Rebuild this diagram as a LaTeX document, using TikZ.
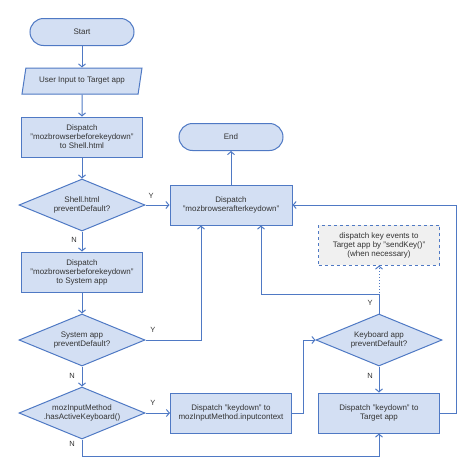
\documentclass[tikz,border=0pt]{standalone}
\usepackage{fontspec}
\setmainfont{Liberation Sans}
\usepackage{xcolor}
\usetikzlibrary{arrows.meta,shapes.geometric,positioning}
\definecolor{edge}{HTML}{4F79C4}
\definecolor{boxfill}{HTML}{D3DFF3}
\definecolor{notefill}{HTML}{F0F0F0}
\definecolor{ink}{HTML}{333333}
\tikzset{
  proc/.style={draw=edge, fill=boxfill, line width=1pt, minimum width=121pt, minimum height=40pt,
    align=center, text=ink, font=\fontsize{8}{9}\selectfont, inner sep=1pt},
  term/.style={proc, rounded corners=13.5pt, minimum width=104pt, minimum height=27pt},
  io/.style={proc, trapezium, trapezium left angle=67, trapezium right angle=113,
    trapezium stretches body, minimum width=120pt, minimum height=26pt},
  dec/.style={proc, diamond, aspect=2.4, inner sep=0pt, minimum width=126pt, minimum height=52pt},
  note/.style={proc, dashed, fill=notefill},
  flow/.style={draw=edge, line width=1pt, -{Straight Barb[length=3pt,width=7pt]}},
  hint/.style={flow, dotted},
  yn/.style={text=ink, font=\fontsize{7.5}{9}\selectfont},
}
\begin{document}
\begin{tikzpicture}[x=1pt, y=-1pt]
\useasboundingbox (0,0) rectangle (474,474);

% left column
\node[term] (start) at (82,32) {Start};
\node[io] (input) at (82,81) {User Input to Target app};
\node[proc] (shellsend) at (82,137) {Dispatch\\"mozbrowserbeforekeydown"\\to Shell.html};
\node[dec] (shelldec) at (82,205) {Shell.html\\preventDefault?};
\node[proc] (syssend) at (82,272) {Dispatch\\"mozbrowserbeforekeydown"\\to System app};
\node[dec] (sysdec) at (82,340) {System app\\preventDefault?};
\node[dec] (imdec) at (82,413) {mozInputMethod\\.hasActiveKeyboard()};

% middle and right
\node[term] (end) at (231,137) {End};
\node[proc, minimum width=122pt] (after) at (231,205) {Dispatch\\"mozbrowserafterkeydown"};
\node[proc] (imsend) at (231,413) {Dispatch "keydown" to\\mozInputMethod.inputcontext};
\node[note] (sendkey) at (379,245) {dispatch key events to\\Target app by "sendKey()"\\(when necessary)};
\node[dec] (kbdec) at (379,340) {Keyboard app\\preventDefault?};
\node[proc] (tgtsend) at (379,413) {Dispatch "keydown" to\\Target app};

\coordinate (imturn) at (82,456);
\coordinate (kbturn) at (379,294);
\coordinate (rturn) at (456,413);

\draw[flow] (start) -- (input);
\draw[flow] (input) -- (shellsend);
\draw[flow] (shellsend) -- (shelldec);
\draw[flow] (shelldec) -- (syssend);
\draw[flow] (syssend) -- (sysdec);
\draw[flow] (sysdec) -- (imdec);
\draw[flow] (shelldec.east) -- (after.west);
\draw[flow] (sysdec.east) -| ([xshift=-30pt]after.south);
\draw[flow] (imdec.east) -- (imsend.west);
\draw[flow] (imdec.south) -- (imturn) -| (tgtsend.south);
\draw[flow] (imsend.east) -- ++(11,0) |- (kbdec.west);
\draw[flow] (kbdec.south) -- (tgtsend.north);
\draw[flow] (kbdec.north) -- (kbturn) -| ([xshift=30pt]after.south);
\draw[hint] (kbdec.north) -- (sendkey.south);
\draw[flow] (tgtsend.east) -- (rturn) |- (after.east);
\draw[flow] (after) -- (end);

% Y / N labels
\node[yn] (y1) at (151,196) {Y};
\node[yn] (n1) at (74,240) {N};
\node[yn] (y2) at (153,330) {Y};
\node[yn] (n2) at (72,376) {N};
\node[yn] (y3) at (153,403) {Y};
\node[yn] (n3) at (72,444) {N};
\node[yn] (y4) at (370,303) {Y};
\node[yn] (n4) at (370,376) {N};
\end{tikzpicture}
\end{document}
